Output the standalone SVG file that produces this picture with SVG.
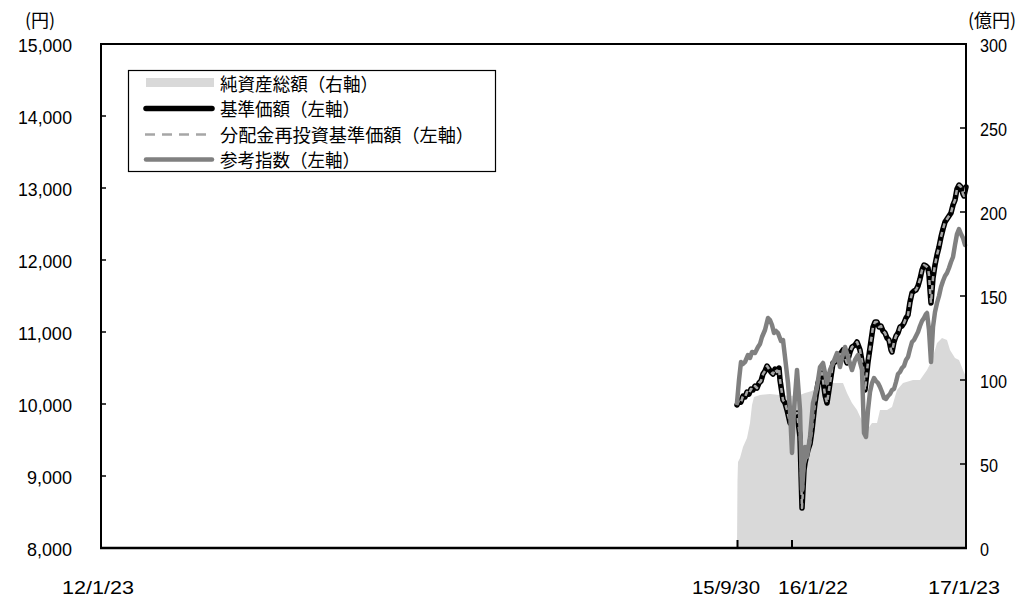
<svg xmlns="http://www.w3.org/2000/svg" width="1025" height="597" viewBox="0 0 1025 597">
<style>
.t{font-family:"Noto Sans CJK JP","Liberation Sans",sans-serif;font-size:18px;fill:#000}
.num{font-family:"Liberation Sans","Noto Sans CJK JP",sans-serif;font-size:19px;fill:#000}
.ax{stroke:#000;stroke-width:2;fill:none}
.tk{stroke:#000;stroke-width:1.5}
.nav{fill:#d9d9d9;stroke:none}
.bp{fill:none;stroke:#000;stroke-width:5.5;stroke-linejoin:round;stroke-linecap:round}
.rp{fill:none;stroke:#a6a6a6;stroke-width:2.5;stroke-dasharray:5 4;stroke-linejoin:round}
.ref{fill:none;stroke:#808080;stroke-width:4.5;stroke-linejoin:round;stroke-linecap:round}
</style>
<defs>
<polyline id="kpath" points="737,405 739,400 741,402 743,396 745,397 747,392 749,394 751,389 753,390 755,386 757,388 759,383 761,381 763,374 765,371 767,366 769,369 771,372 773,374 775,369 777,372 779,368 780,380 783,400 785,403 787,410 790,423 793,417 795,414 797,413 800,437 802,508 804,470 805,463 808,450 810,444 812,430 815,403 818,383 820,377 822,373 825,395 827,403 830,383 833,363 835,362 838,357 841,353 843,350 845,358 847,363 850,352 852,347 855,345 857,342 860,350 863,367 865,390 868,362 870,348 873,327 875,322 877,322 879,327 881,326 883,331 885,333 887,338 889,340 891,350 892,352 894,342 896,336 898,333 900,327 902,326 904,323 906,318 908,315 910,302 912,293 914,291 916,290 918,286 920,279 922,270 924,265 926,266 928,268 929,275 930,290 931,303 933,278 935,265 937,255 939,247 941,237 943,229 945,222 947,219 949,216 951,213 953,205 955,200 957,189 959,185 961,187 963,194 964,196 966,187"/>
</defs>

<g id="series">
<polygon class="nav" points="737,548 737.5,480 738,462 740,458 743,447 747,438 750,423 752,405 754,397 760,395 770,394 780,395 790,396 800,395 805,393 812,391 817,387 830,383 843,383 847,393 852,403 857,410 863,423 867,430 872,423 877,423 880,410 887,410 892,407 897,390 903,383 913,380 920,380 927,370 932,360 937,343 942,338 947,340 950,350 955,358 959,360 963,370 966,377 966,548"/>
<use id="kijun" href="#kpath" class="bp"/>
<use id="reinvest" href="#kpath" class="rp"/>
<polyline id="sankou" class="ref" points="737,403 739,380 741,362 743,364 745,362 748,355 750,358 752,352 755,353 758,347 760,344 762,337 765,330 768,318 770,320 772,325 774,333 776,331 778,333 781,341 783,340 785,357 788,383 790,410 792,453 794,410 797,370 800,410 802,490 805,447 807,457 810,437 813,403 817,387 820,367 823,363 827,383 830,370 833,363 837,353 840,367 842,358 845,347 848,357 852,370 855,360 858,355 862,370 864,433 866,437 868,410 870,392 872,383 874,378 876,381 878,383 880,387 882,392 884,398 886,399 888,396 890,394 892,390 894,389 896,382 898,374 900,372 902,368 904,366 906,360 908,357 910,349 912,342 914,340 916,336 918,332 920,326 922,321 924,318 926,314 927,313 929,330 931,362 933,327 935,312 937,303 939,296 941,287 943,281 945,276 947,273 949,268 951,262 953,257 955,245 957,234 959,229 961,234 963,238 965,245"/>
</g>

<g id="axes">
<polyline class="ax" points="100,44 966,44 966,548"/>
<line class="ax" x1="101" y1="44" x2="101" y2="549"/>
<line x1="100" y1="548" x2="967" y2="548" stroke="#000" stroke-width="2.5"/>
<g class="tk">
<line x1="100" y1="116" x2="106" y2="116"/>
<line x1="100" y1="188" x2="106" y2="188"/>
<line x1="100" y1="260" x2="106" y2="260"/>
<line x1="100" y1="332" x2="106" y2="332"/>
<line x1="100" y1="404" x2="106" y2="404"/>
<line x1="100" y1="476" x2="106" y2="476"/>
<line x1="960" y1="128" x2="966" y2="128"/>
<line x1="960" y1="212" x2="966" y2="212"/>
<line x1="960" y1="296" x2="966" y2="296"/>
<line x1="960" y1="380" x2="966" y2="380"/>
<line x1="960" y1="464" x2="966" y2="464"/>
<line x1="737.5" y1="540" x2="737.5" y2="548" stroke-width="2"/>
<line x1="792" y1="540" x2="792" y2="548" stroke-width="2"/>
</g>
</g>

<g id="left-axis-labels">
<text class="t" x="25" y="27" font-size="17">(円)</text>
<text class="num" x="72" y="52" text-anchor="end" textLength="54" lengthAdjust="spacingAndGlyphs">15,000</text>
<text class="num" x="72" y="124" text-anchor="end" textLength="54" lengthAdjust="spacingAndGlyphs">14,000</text>
<text class="num" x="72" y="196" text-anchor="end" textLength="54" lengthAdjust="spacingAndGlyphs">13,000</text>
<text class="num" x="72" y="268" text-anchor="end" textLength="54" lengthAdjust="spacingAndGlyphs">12,000</text>
<text class="num" x="72" y="340" text-anchor="end" textLength="54" lengthAdjust="spacingAndGlyphs">11,000</text>
<text class="num" x="72" y="412" text-anchor="end" textLength="54" lengthAdjust="spacingAndGlyphs">10,000</text>
<text class="num" x="72" y="484" text-anchor="end" textLength="45" lengthAdjust="spacingAndGlyphs">9,000</text>
<text class="num" x="72" y="556" text-anchor="end" textLength="45" lengthAdjust="spacingAndGlyphs">8,000</text>
</g>

<g id="right-axis-labels">
<text class="t" x="968" y="27" font-size="17">(億円)</text>
<text class="num" x="980" y="52" textLength="27" lengthAdjust="spacingAndGlyphs">300</text>
<text class="num" x="980" y="136" textLength="27" lengthAdjust="spacingAndGlyphs">250</text>
<text class="num" x="980" y="220" textLength="27" lengthAdjust="spacingAndGlyphs">200</text>
<text class="num" x="980" y="304" textLength="27" lengthAdjust="spacingAndGlyphs">150</text>
<text class="num" x="980" y="388" textLength="27" lengthAdjust="spacingAndGlyphs">100</text>
<text class="num" x="980" y="472" textLength="18" lengthAdjust="spacingAndGlyphs">50</text>
<text class="num" x="980" y="556" textLength="9" lengthAdjust="spacingAndGlyphs">0</text>
</g>

<g id="x-axis-labels">
<text class="num" x="62" y="594" textLength="72" lengthAdjust="spacingAndGlyphs">12/1/23</text>
<text class="num" x="692" y="594" textLength="68" lengthAdjust="spacingAndGlyphs">15/9/30</text>
<text class="num" x="778" y="594" textLength="70" lengthAdjust="spacingAndGlyphs">16/1/22</text>
<text class="num" x="928" y="594" textLength="72" lengthAdjust="spacingAndGlyphs">17/1/23</text>
</g>

<g id="legend">
<rect x="128.5" y="70.5" width="367" height="101" fill="#fff" stroke="#000" stroke-width="1.2"/>
<rect x="146" y="78" width="68" height="9" fill="#d9d9d9"/>
<line x1="146" y1="108.5" x2="212" y2="108.5" stroke="#000" stroke-width="5.5" stroke-linecap="round"/>
<line x1="145" y1="134.5" x2="213" y2="134.5" stroke="#a6a6a6" stroke-width="2.5" stroke-dasharray="10 7"/>
<line x1="146" y1="159.5" x2="212" y2="159.5" stroke="#808080" stroke-width="4.5" stroke-linecap="round"/>
<text class="t" x="220" y="91" textLength="158" lengthAdjust="spacingAndGlyphs">純資産総額（右軸）</text>
<text class="t" x="220" y="116" textLength="140" lengthAdjust="spacingAndGlyphs">基準価額（左軸）</text>
<text class="t" x="220" y="142" textLength="254" lengthAdjust="spacingAndGlyphs">分配金再投資基準価額（左軸）</text>
<text class="t" x="220" y="167" textLength="140" lengthAdjust="spacingAndGlyphs">参考指数（左軸）</text>
</g>
</svg>
